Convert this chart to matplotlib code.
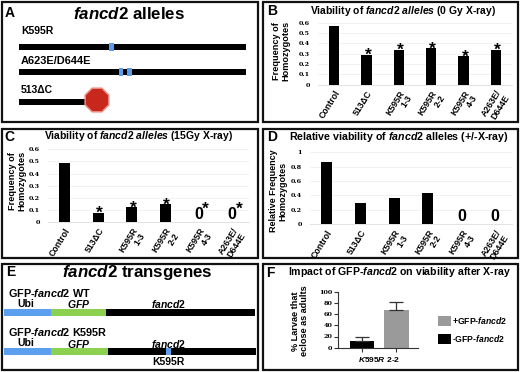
import matplotlib
matplotlib.use("Agg")
import matplotlib.pyplot as plt
from matplotlib.patches import Rectangle, RegularPolygon

plt.rcParams['font.family'] = ['Liberation Sans', 'DejaVu Sans']
plt.rcParams['mathtext.fontset'] = 'custom'
plt.rcParams['mathtext.rm'] = 'Liberation Sans:bold'
plt.rcParams['mathtext.it'] = 'Liberation Sans:italic:bold'
plt.rcParams['mathtext.bf'] = 'Liberation Sans:bold'

W, H = 520, 372

categories_b = ['Control', '513ΔC', 'K595R\n1-3', 'K595R\n2-2', 'K595R\n4-3', 'A263E/\nD644E']
values_b = [0.57, 0.29, 0.34, 0.355, 0.275, 0.34]
stars_b = [False, True, True, True, True, True]
ticks_b = [0, 0.1, 0.2, 0.3, 0.4, 0.5, 0.6]

categories_c = ['Control', '513ΔC', 'K595R\n1-3', 'K595R\n2-2', 'K595R\n4-3', 'A263E/\nD644E']
values_c = [0.485, 0.08, 0.125, 0.15, 0, 0]
stars_c = [False, True, True, True, True, True]
ticks_c = [0, 0.1, 0.2, 0.3, 0.4, 0.5, 0.6]

categories_d = ['Control', '513ΔC', 'K595R\n1-3', 'K595R\n2-2', 'K595R\n4-3', 'A263E/\nD644E']
values_d = [0.86, 0.29, 0.365, 0.43, 0, 0]
ticks_d = [0, 0.2, 0.4, 0.6, 0.8, 1]

groups_f = ['-GFP-fancd2', '+GFP-fancd2']
values_f = [12, 67]
errors_f = [7, 14]
ticks_f = [0, 20, 40, 60, 80, 100]

fig = plt.figure(figsize=(W / 100, H / 100), dpi=100)
bg = fig.add_axes([0, 0, 1, 1], zorder=0)
bg.set_xlim(0, W)
bg.set_ylim(H, 0)
bg.axis('off')


def T(x, y, s, size=7.5, ha='left', va='center', weight='bold', **kw):
    bg.text(x, y, s, fontsize=size, ha=ha, va=va, fontweight=weight, zorder=6, **kw)


def R(x0, y0, x1, y1, color, z=3):
    bg.add_patch(Rectangle((x0, y0), x1 - x0, y1 - y0, facecolor=color, edgecolor='none', zorder=z))


for x0, y0, x1, y1 in [(2, 2, 258, 122), (263, 2, 518, 122), (2, 129, 258, 258),
                       (263, 129, 518, 258), (2, 264, 258, 370), (263, 264, 518, 370)]:
    bg.add_patch(Rectangle((x0, y0), x1 - x0, y1 - y0, facecolor='white',
                           edgecolor='#111111', linewidth=1.6, zorder=1))


def axes_px(left, right, top, bottom):
    return fig.add_axes([left / W, 1 - bottom / H, (right - left) / W, (bottom - top) / H],
                        zorder=2, facecolor='none')


def bars(left, right, top, bottom, cats, vals, ticks, fmt_size=4.6, width=0.32, stars=None):
    ax = axes_px(left, right, top, bottom)
    xs = list(range(len(cats)))
    ax.bar(xs, vals, width=width, color='black')
    ax.set_xlim(-0.5, len(cats) - 0.5)
    ax.set_ylim(ticks[0], ticks[-1])
    ax.set_yticks(ticks)
    ax.set_yticklabels([f'{t:g}' for t in ticks], fontsize=fmt_size, fontweight='bold',
                       family='DejaVu Serif')
    ax.set_xticks(xs)
    ax.set_xticklabels(cats, rotation=58, ha='right', rotation_mode='anchor',
                       fontsize=6.3, fontweight='bold', linespacing=1.05)
    ax.tick_params(length=0, pad=3)
    ax.tick_params(axis='y', pad=5.8)
    ax.grid(axis='y', color='#f0f0f0', linewidth=0.6)
    ax.set_axisbelow(True)
    for s in ax.spines.values():
        s.set_visible(False)
    ax.spines['bottom'].set_visible(True)
    ax.spines['bottom'].set_color('#dddddd')
    ax.spines['bottom'].set_linewidth(0.6)
    for i, v in enumerate(vals):
        if stars and stars[i]:
            if v == 0:
                ax.annotate('0', (i, 0), xytext=(0, 0), textcoords='offset points', ha='center',
                            va='bottom', fontsize=11.5, fontweight='bold')
                ax.annotate('*', (i, 0), xytext=(2.5, 4), textcoords='offset points', ha='left',
                            va='bottom', fontsize=12.5, fontweight='bold')
            else:
                ax.annotate('*', (i, v), xytext=(1, -6), textcoords='offset points', ha='center',
                            va='bottom', fontsize=12.5, fontweight='bold')
        elif stars is None and v == 0:
            ax.annotate('0', (i, 0), xytext=(0, 0), textcoords='offset points', ha='center',
                        va='bottom', fontsize=11.5, fontweight='bold')
    return ax


# Panel A
T(5, 13, 'A', 10)
T(129, 14, r'$\mathit{fancd2}$ alleles', 12.2, ha='center')
T(21, 31, 'K595R', 7.5)
T(21, 61, 'A623E/D644E', 7.9)
T(21, 90, '513ΔC', 7.5)
R(19, 44, 246, 50, 'black')
R(19, 68.5, 246, 74.5, 'black')
R(19, 99, 90, 105, 'black')
for x0 in (109, 118.5, 127):
    y0 = 43 if x0 == 109 else 67.5
    R(x0, y0, x0 + 4.5, y0 + 8, '#5b9bea', 4)
bg.add_patch(RegularPolygon((97, 100), 8, radius=12.8, orientation=0.3927,
                            facecolor='#c8281c', edgecolor='#ea8f86', linewidth=1.1, zorder=4))

# Panel B
T(267, 11, 'B', 10)
T(403.5, 11.5, r'Viability of $\mathit{fancd2\ alleles}$ (0 Gy X-ray)', 7.45, ha='center')
bars(318, 512, 22.7, 84.7, categories_b, values_b, ticks_b, stars=stars_b)
T(281, 51, 'Frequency of\nHomozygotes', 6.6, ha='center', rotation=90, linespacing=1.05)

# Panel C
T(4, 137, 'C', 10)
T(138.5, 136, r'Viability of $\mathit{fancd2\ alleles}$ (15Gy X-ray)', 7.45, ha='center')
bars(48, 249, 149.3, 222.3, categories_c, values_c, ticks_c, stars=stars_c)
T(17, 181, 'Frequency of\nHomozygotes', 6.6, ha='center', rotation=90, linespacing=1.05)

# Panel D
T(267, 137, 'D', 10)
T(398.5, 137, r'Relative viability of $\mathit{fancd2}$ alleles (+/-X-ray)', 7.65, ha='center')
bars(310, 512, 152.3, 224, categories_d, values_d, ticks_d)
T(278, 191, 'Relative Frequency\nHomozygotes', 6.5, ha='center', rotation=90, linespacing=1.05)

# Panel E
T(6, 272, 'E', 10)
T(137, 273, r'$\mathit{fancd2}$ transgenes', 12.2, ha='center')
T(8, 293, r'GFP-$\mathit{fancd2}$ WT', 7.8)
T(17, 304, 'Ubi', 7.5)
T(67, 304, r'$\mathit{GFP}$', 7.5)
T(151, 304, r'$\mathit{fancd2}$', 7.5)
R(4, 309, 51, 316, '#5b9fee')
R(51, 309, 106, 316, '#8cd050')
R(106, 309, 255, 316, 'black')
T(8, 332, r'GFP-$\mathit{fancd2}$ K595R', 7.8)
T(17, 343, 'Ubi', 7.5)
T(67, 344, r'$\mathit{GFP}$', 7.5)
T(151, 344, r'$\mathit{fancd2}$', 7.5)
R(4, 348, 51, 355, '#5b9fee')
R(51, 348, 108, 355, '#8cd050')
R(108, 348, 256, 355, 'black')
R(166, 348, 171, 355, '#5b9fee', 4)
T(168, 362, 'K595R', 7.5, ha='center')

# Panel F
T(266, 273, 'F', 10)
T(400, 272, r'Impact of GFP-$\mathit{fancd2}$ on viability after X-ray', 7.6, ha='center')
axf = axes_px(338, 418, 291.7, 347.7)
colors_f = ['black', '#9a9a9a']
axf.bar([0, 1], values_f, width=0.72, color=colors_f, yerr=[[0, 0], errors_f],
        error_kw=dict(ecolor='#333333', elinewidth=0.9, capsize=5, capthick=0.9))
axf.set_xlim(-0.7, 1.63)
axf.set_ylim(0, 100)
axf.set_yticks(ticks_f)
axf.set_yticklabels([str(t) for t in ticks_f], fontsize=4.6, fontweight='bold', family='DejaVu Serif')
axf.set_xticks([0, 1])
axf.set_xticklabels(['', ''])
axf.tick_params(length=3, width=0.8, pad=1, color='#333333')
for s in ('top', 'right'):
    axf.spines[s].set_visible(False)
for s in ('left', 'bottom'):
    axf.spines[s].set_linewidth(0.8)
    axf.spines[s].set_color('#333333')
T(300, 321, '% Larvae that\neclose as adults', 6.6, ha='center', rotation=90, linespacing=1.05)
T(379, 360, r'$\mathit{K595R\ 2}$-$\mathit{2}$', 6, ha='center')
R(438, 316, 451, 326, colors_f[1])
T(452, 321, r'+GFP-$\mathit{fancd2}$', 6.2)
R(438, 334, 451, 344, colors_f[0])
T(452, 339, r'-GFP-$\mathit{fancd2}$', 6.2)

fig.savefig('out.png', dpi=100)
